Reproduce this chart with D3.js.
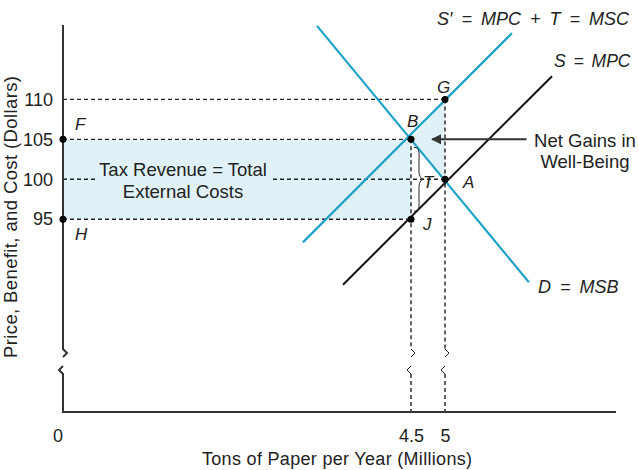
<!DOCTYPE html>
<html>
<head>
<meta charset="utf-8">
<script src="https://cdn.jsdelivr.net/npm/d3@7"></script>
<style>
  body { margin: 0; background: #fff; }
  svg { display: block; font-family: "Liberation Sans", Arial, sans-serif; }
</style>
</head>
<body>
<svg width="638" height="470"></svg>
<script>
// chart data (quantity in millions of tons, price in dollars)
const priceTicks = [95, 100, 105, 110];
const quantityTicks = [4.5, 5];
const supplyTaxLine = [[2.91, 92.1], [5.985, 118.3]];   // S' = MPC + T = MSC
const demandLine = [[3.118, 119.2], [6.235, 87.1]];     // D = MSB
const supplyLine = [[3.5, 86.8], [6.574, 112.9]];       // S = MPC
const pointNames = ["B", "G", "A", "J"];
const pointQty = [4.5, 5, 5, 4.5];
const pointPrice = [105, 110, 100, 95];
const axisPointNames = ["F", "H"];
const axisPointPrice = [105, 95];
const arrowLine = [[6.2, 105], [4.81, 105]];

const blue = "#1ea3c8";
const shade = "#e0f1f7";
const ink = "#222";

const svg = d3.select("svg");

// frame
const originX = 63, originY = 412, axisTop = 25, axisRight = 616;
const breakTop = 349, breakBottom = 374;

// scales
const x = d3.scaleLinear().domain([4.5, 5]).range([411, 445]);
const y = d3.scaleLinear().domain([95, 110]).range([219.2, 99.4]);
const line = d3.line().x(d => x(d[0])).y(d => y(d[1]));

// shaded areas: tax revenue rectangle + net gain triangle
svg.append("rect")
    .attr("x", originX)
    .attr("y", y(105))
    .attr("width", x(4.5) - originX)
    .attr("height", y(95) - y(105))
    .attr("fill", shade);

svg.append("path")
    .attr("d", line([[4.5, 105], [5, 110], [5, 100]]) + "Z")
    .attr("fill", shade);

// dashed guides
const dash = "4,3";
const hGuides = [[110, 5], [105, 4.5], [100, 5], [95, 4.5]];
svg.selectAll(".hguide")
    .data(hGuides)
    .join("line")
    .attr("class", "hguide")
    .attr("x1", originX)
    .attr("x2", d => x(d[1]))
    .attr("y1", d => y(d[0]))
    .attr("y2", d => y(d[0]))
    .attr("stroke", ink)
    .attr("stroke-width", 1.4)
    .attr("stroke-dasharray", dash);

// vertical guides with axis breaks
const vGuides = [[4.5, 105], [5, 110]];
vGuides.forEach(([q, p]) => {
    const gx = x(q);
    svg.append("path")
        .attr("d", `M${gx},${y(p)}V${breakTop}M${gx},${breakBottom}V${originY}`)
        .attr("stroke", ink)
        .attr("stroke-width", 1.4)
        .attr("stroke-dasharray", dash)
        .attr("fill", "none");
    svg.append("path")
        .attr("d", `M${gx},${breakTop}l4,4l-4,4M${gx},${breakBottom - 8}l-4,4l4,4`)
        .attr("stroke", ink)
        .attr("stroke-width", 1)
        .attr("fill", "none");
});

// curves
svg.append("path").attr("d", line(supplyTaxLine))
    .attr("stroke", blue).attr("stroke-width", 2.2).attr("fill", "none");
svg.append("path").attr("d", line(demandLine))
    .attr("stroke", blue).attr("stroke-width", 2.2).attr("fill", "none");
svg.append("path").attr("d", line(supplyLine))
    .attr("stroke", "#111").attr("stroke-width", 2).attr("fill", "none");

// tax revenue text (knocks out the dashed line)
const taxText = svg.append("g");
const taxLines = ["Tax Revenue = Total", "External Costs"];
taxText.selectAll("text")
    .data(taxLines)
    .join("text")
    .attr("x", 183)
    .attr("y", (d, i) => 176 + i * 22)
    .attr("text-anchor", "middle")
    .attr("font-size", 18.5)
    .attr("fill", ink)
    .text(d => d);
const bb = taxText.node().getBBox();
taxText.insert("rect", "text")
    .attr("x", bb.x - 3)
    .attr("y", bb.y)
    .attr("width", bb.width + 6)
    .attr("height", bb.height)
    .attr("fill", shade);

// axes
svg.append("path")
    .attr("d", `M${originX},${axisTop}V${breakTop}l4,4l-4,4M${originX},${breakBottom - 8}l-4,4l4,4V${originY}H${axisRight}`)
    .attr("stroke", "#333")
    .attr("stroke-width", 2)
    .attr("fill", "none");

const yAxis = svg.append("g")
    .attr("transform", `translate(${originX},0)`)
    .call(d3.axisLeft(y).tickValues(priceTicks).tickSize(0).tickPadding(10));
yAxis.select(".domain").remove();
yAxis.selectAll("text").attr("font-size", 18).attr("fill", ink)
    .attr("font-family", "Liberation Sans, Arial, sans-serif");

const xAxis = svg.append("g")
    .attr("transform", `translate(0,${originY})`)
    .call(d3.axisBottom(x).tickValues(quantityTicks).tickSize(0).tickPadding(17)
        .tickFormat(d3.format("")));
xAxis.select(".domain").remove();
xAxis.selectAll("text").attr("font-size", 18).attr("fill", ink)
    .attr("font-family", "Liberation Sans, Arial, sans-serif");

svg.append("text")
    .attr("x", originX - 5)
    .attr("y", 442)
    .attr("text-anchor", "middle")
    .attr("font-size", 18)
    .attr("fill", ink)
    .text("0");

// axis titles
svg.append("text")
    .attr("x", 337)
    .attr("y", 465)
    .attr("text-anchor", "middle")
    .attr("font-size", 18)
    .attr("textLength", 270)
    .attr("lengthAdjust", "spacing")
    .attr("fill", ink)
    .text("Tons of Paper per Year (Millions)");

svg.append("text")
    .attr("transform", "translate(17,217) rotate(-90)")
    .attr("text-anchor", "middle")
    .attr("font-size", 18.5)
    .attr("textLength", 282)
    .attr("lengthAdjust", "spacing")
    .attr("fill", ink)
    .text("Price, Benefit, and Cost (Dollars)");

// points
svg.selectAll(".pt")
    .data(pointNames)
    .join("circle")
    .attr("class", "pt")
    .attr("cx", (d, i) => x(pointQty[i]))
    .attr("cy", (d, i) => y(pointPrice[i]))
    .attr("r", 3.5)
    .attr("fill", "#000");

svg.selectAll(".axpt")
    .data(axisPointNames)
    .join("circle")
    .attr("class", "axpt")
    .attr("cx", originX)
    .attr("cy", (d, i) => y(axisPointPrice[i]))
    .attr("r", 3.5)
    .attr("fill", "#000");

// point labels
const labelOffsets = { B: [-4, -12], G: [-8, -6], A: [18, 9], J: [12, 11] };
svg.selectAll(".ptlabel")
    .data(pointNames)
    .join("text")
    .attr("class", "ptlabel")
    .attr("x", (d, i) => x(pointQty[i]) + labelOffsets[d][0])
    .attr("y", (d, i) => y(pointPrice[i]) + labelOffsets[d][1])
    .attr("font-size", 17)
    .attr("font-style", "italic")
    .attr("fill", ink)
    .text(d => d);

svg.selectAll(".axlabel")
    .data(axisPointNames)
    .join("text")
    .attr("class", "axlabel")
    .attr("x", originX + 12)
    .attr("y", (d, i) => y(axisPointPrice[i]) + (d === "F" ? -9 : 21))
    .attr("font-size", 17)
    .attr("font-style", "italic")
    .attr("fill", ink)
    .text(d => d);

// brace for T between B and J
const bx = x(4.5) + 3, bTop = y(105) + 8, bBot = y(95) - 8, bMid = y(100);
svg.append("path")
    .attr("d", `M${bx},${bTop}C${bx + 6},${bTop} ${bx + 5},${bTop + 6} ${bx + 5},${bTop + 12}` +
        `V${bMid - 8}C${bx + 5},${bMid - 2} ${bx + 8},${bMid} ${bx + 10},${bMid}` +
        `C${bx + 8},${bMid} ${bx + 5},${bMid + 2} ${bx + 5},${bMid + 8}` +
        `V${bBot - 12}C${bx + 5},${bBot - 6} ${bx + 6},${bBot} ${bx},${bBot}`)
    .attr("stroke", ink)
    .attr("stroke-width", 1)
    .attr("fill", "none");

svg.append("text")
    .attr("x", x(4.5) + 12)
    .attr("y", y(100) + 9)
    .attr("font-size", 17)
    .attr("font-style", "italic")
    .attr("fill", ink)
    .text("T");

// curve labels
svg.append("text")
    .attr("x", 437).attr("y", 25)
    .attr("font-size", 18).attr("font-style", "italic").attr("fill", ink)
    .attr("word-spacing", 4)
    .text("S\u2032 = MPC + T = MSC");
svg.append("text")
    .attr("x", 554).attr("y", 67)
    .attr("font-size", 17.5).attr("font-style", "italic").attr("fill", ink)
    .attr("word-spacing", 3)
    .text("S = MPC");
svg.append("text")
    .attr("x", 538).attr("y", 293)
    .attr("font-size", 18).attr("font-style", "italic").attr("fill", ink)
    .attr("word-spacing", 4)
    .text("D = MSB");

// net gains annotation
svg.append("defs").append("marker")
    .attr("id", "arrow")
    .attr("viewBox", "0 0 10 10")
    .attr("refX", 9).attr("refY", 5)
    .attr("markerWidth", 5).attr("markerHeight", 5)
    .attr("orient", "auto")
    .append("path")
    .attr("d", "M0,0L10,5L0,10z")
    .attr("fill", "#333");

svg.append("path")
    .attr("d", line(arrowLine))
    .attr("stroke", "#333")
    .attr("stroke-width", 2)
    .attr("marker-end", "url(#arrow)");

svg.selectAll(".gain")
    .data(["Net Gains in", "Well-Being"])
    .join("text")
    .attr("class", "gain")
    .attr("x", 585)
    .attr("y", (d, i) => 147 + i * 21)
    .attr("text-anchor", "middle")
    .attr("font-size", 18.5)
    .attr("fill", ink)
    .text(d => d);
</script>
</body>
</html>
